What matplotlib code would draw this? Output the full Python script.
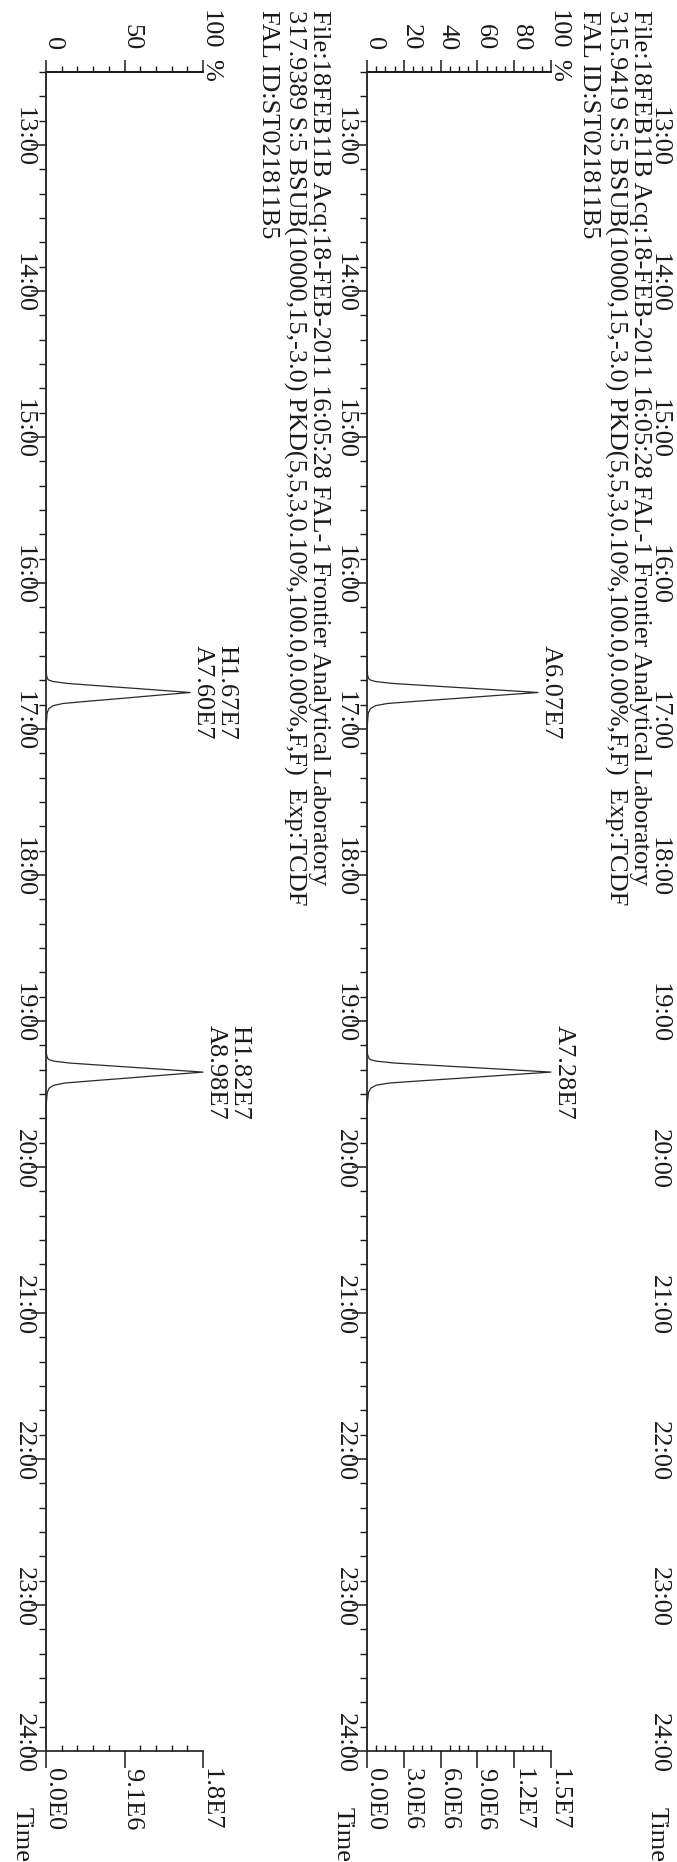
import matplotlib
matplotlib.use("Agg")
import matplotlib.pyplot as plt
from matplotlib.ticker import FixedLocator, MultipleLocator
from matplotlib.transforms import offset_copy

plt.rcParams['font.family'] = ['Liberation Serif', 'DejaVu Serif']

W, H, DPI = 677, 1862, 100
FS = 19
INK = '#1a1a1a'

# time axis (minutes, shown as mm:ss)
T_START, T_END = 12.5, 24.0
time_ticks = [13, 14, 15, 16, 17, 18, 19, 20, 21, 22, 23, 24]
time_labels = ['13:00', '14:00', '15:00', '16:00', '17:00', '18:00',
               '19:00', '20:00', '21:00', '22:00', '23:00', '24:00']

# lower trace (drawn on the left after rotation), % of 1.82E7
left_time = [12.5,
             16.55, 16.63, 16.655, 16.665, 16.675, 16.688, 16.71, 16.73, 16.75,
             16.77, 16.79, 16.81, 16.825, 16.84, 16.86, 16.89, 16.95, 17.03,
             19.15, 19.23, 19.255, 19.265, 19.275, 19.288, 19.31, 19.33, 19.35,
             19.37, 19.39, 19.41, 19.425, 19.44, 19.46, 19.49, 19.55, 19.63,
             24.0]
left_pct = [0,
            0, 0.3, 0.9, 1.8, 4.6, 13.8, 41.3, 67.0, 91.8,
            69.8, 48.7, 26.6, 11.0, 4.6, 1.8, 0.7, 0.3, 0,
            0, 0.3, 1.0, 2.0, 5.0, 15.0, 45.0, 73.0, 100.0,
            76.0, 53.0, 29.0, 12.0, 5.0, 2.0, 0.8, 0.3, 0,
            0]
left_peak_time = [16.75, 19.35]
left_peak_pct = [91.8, 100.0]
left_peak_h = ['H1.67E7', 'H1.82E7']
left_peak_a = ['A7.60E7', 'A8.98E7']
left_pct_ticks = [0, 50, 100]
left_pct_labels = ['0', '50', '100']
left_abs_labels = ['0.0E0', '9.1E6', '1.8E7']
left_minor = 10
left_header = ['File:18FEB11B Acq:18-FEB-2011 16:05:28 FAL-1 Frontier Analytical Laboratory',
               '317.9389 S:5 BSUB(10000,15,-3.0) PKD(5,5,3,0.10%,100.0,0.00%,F,F)  Exp:TCDF',
               'FAL ID:ST021811B5']

# upper trace (drawn in the middle after rotation), % of 1.5E7
right_time = [12.5,
              16.55, 16.63, 16.655, 16.665, 16.675, 16.688, 16.71, 16.73, 16.75,
              16.77, 16.79, 16.81, 16.825, 16.84, 16.86, 16.89, 16.95, 17.03,
              19.15, 19.23, 19.255, 19.265, 19.275, 19.288, 19.31, 19.33, 19.35,
              19.37, 19.39, 19.41, 19.425, 19.44, 19.46, 19.49, 19.55, 19.63,
              24.0]
right_pct = [0,
             0, 0.3, 0.9, 1.9, 4.7, 14.0, 41.9, 67.9, 93.0,
             70.7, 49.3, 27.0, 11.2, 4.7, 1.9, 0.7, 0.3, 0,
             0, 0.3, 1.0, 2.0, 5.0, 15.0, 45.0, 73.0, 100.0,
             76.0, 53.0, 29.0, 12.0, 5.0, 2.0, 0.8, 0.3, 0,
             0]
right_peak_time = [16.75, 19.35]
right_peak_pct = [93.0, 100.0]
right_peak_a = ['A6.07E7', 'A7.28E7']
right_pct_ticks = [0, 20, 40, 60, 80, 100]
right_pct_labels = ['0', '20', '40', '60', '80', '100']
right_abs_labels = ['0.0E0', '3.0E6', '6.0E6', '9.0E6', '1.2E7', '1.5E7']
right_minor = 5
right_header = ['File:18FEB11B Acq:18-FEB-2011 16:05:28 FAL-1 Frontier Analytical Laboratory',
                '315.9419 S:5 BSUB(10000,15,-3.0) PKD(5,5,3,0.10%,100.0,0.00%,F,F)  Exp:TCDF',
                'FAL ID:ST021811B5']


def pt(px):
    return px * 72.0 / DPI


fig = plt.figure(figsize=(W / DPI, H / DPI), dpi=DPI)
fig.patch.set_facecolor('white')


def rtext(ax, x, y, s, transform, dx=0, dy=0, **kw):
    tr = offset_copy(transform, fig=fig, x=dx, y=dy, units='dots')
    ax.text(x, y, s, transform=tr, rotation=-90, fontsize=FS, color=INK,
            clip_on=False, **kw)


def panel_rect(x0, width):
    top, bottom = 72, 1751
    return [x0 / W, (H - bottom) / H, width / W, (bottom - top) / H]


def time_labels_on(ax):
    ytr = ax.get_yaxis_transform()
    for t, lab in zip(time_ticks, time_labels):
        rtext(ax, 0, t, lab, ytr, dx=-22, dy=8, ha='center', va='center')
    rtext(ax, 0, 0, 'Time', ax.transAxes, dx=-24, dy=-56, ha='center', va='top')


def draw_panel(ax, times, pct, pct_ticks, pct_labels, abs_labels, minor,
               pk_t, pk_p, pk_a, pk_h, header):
    ax.set_xlim(0, 100)
    ax.set_ylim(T_END, T_START)
    ax.plot(pct, times, color='#2a2a2a', lw=0.9, clip_on=False, zorder=3)

    ax.spines['right'].set_visible(False)
    for s in ['left', 'top', 'bottom']:
        ax.spines[s].set_linewidth(1.2)
        ax.spines[s].set_color(INK)

    ax.yaxis.set_major_locator(FixedLocator(time_ticks))
    ax.yaxis.set_minor_locator(MultipleLocator(1 / 6))
    ax.tick_params(axis='y', which='major', direction='out', length=pt(15),
                   width=1.1, color=INK, labelleft=False, right=False)
    ax.tick_params(axis='y', which='minor', direction='out', length=pt(7),
                   width=1.0, color=INK, right=False)

    ax.xaxis.set_major_locator(FixedLocator(pct_ticks))
    ax.xaxis.set_minor_locator(MultipleLocator(minor))
    ax.tick_params(axis='x', which='major', direction='out', length=pt(17),
                   width=1.1, color=INK, labelbottom=False, top=False)
    ax.tick_params(axis='x', which='minor', direction='in', length=pt(6),
                   width=1.0, color=INK, top=False)

    sec = ax.secondary_xaxis('top')
    sec.xaxis.set_major_locator(FixedLocator(pct_ticks))
    sec.xaxis.set_minor_locator(MultipleLocator(minor))
    sec.tick_params(which='major', direction='out', length=pt(12), width=1.1,
                    color=INK, labeltop=False)
    sec.tick_params(which='minor', direction='out', length=pt(6), width=1.0,
                    color=INK)
    sec.spines['top'].set_linewidth(1.2)

    time_labels_on(ax)

    xtr = ax.get_xaxis_transform()
    for p, lab in zip(pct_ticks, pct_labels):
        rtext(ax, p, 1, lab, xtr, dx=7, dy=22, ha='center', va='bottom')
    rtext(ax, 100, 1, '%', xtr, dx=8, dy=2, ha='center', va='center')
    for p, lab in zip(pct_ticks, abs_labels):
        rtext(ax, p, 0, lab, xtr, dx=8, dy=-17, ha='center', va='top')

    for i in range(len(pk_t)):
        rtext(ax, pk_p[i], pk_t[i], pk_a[i], ax.transData, dx=13, dy=0,
              ha='center', va='center')
        if pk_h:
            rtext(ax, pk_p[i], pk_t[i], pk_h[i], ax.transData, dx=36, dy=0,
                  ha='center', va='center')

    for d, line in zip([273, 249, 222], header):
        rtext(ax, 0, 1, line, ax.transAxes, dx=d, dy=62, ha='center', va='top')


ax_left = fig.add_axes(panel_rect(46, 157))
draw_panel(ax_left, left_time, left_pct, left_pct_ticks, left_pct_labels,
           left_abs_labels, left_minor, left_peak_time, left_peak_pct,
           left_peak_a, left_peak_h, left_header)

ax_right = fig.add_axes(panel_rect(367, 184))
draw_panel(ax_right, right_time, right_pct, right_pct_ticks, right_pct_labels,
           right_abs_labels, right_minor, right_peak_time, right_peak_pct,
           right_peak_a, None, right_header)

# next trace is cut off by the page edge, only its time labels show
ax_next = fig.add_axes(panel_rect(681, 184))
ax_next.set_ylim(T_END, T_START)
ax_next.axis('off')
time_labels_on(ax_next)

fig.savefig('out.png', dpi=DPI, facecolor='white')
